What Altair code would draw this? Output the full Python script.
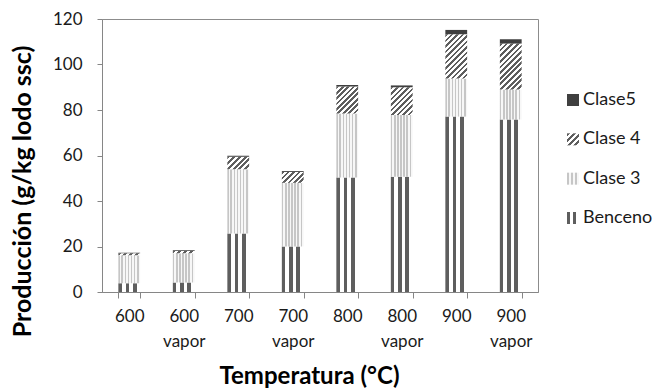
import altair as alt
import pandas as pd

# Product yields (g/kg dry sludge) per pyrolysis condition, by compound class
categories = ["600", "600|vapor", "700", "700|vapor", "800", "800|vapor", "900", "900|vapor"]
classes = ["Benceno", "Clase 3", "Clase 4", "Clase5"]
benceno = [3.8, 4.2, 25.7, 20.0, 50.3, 50.7, 77.1, 75.8]
clase3 = [12.4, 12.8, 28.3, 28.0, 28.2, 27.1, 16.7, 13.2]
clase4 = [0.8, 1.0, 5.5, 4.8, 11.8, 12.2, 19.5, 20.2]
clase5 = [0.2, 0.3, 0.4, 0.4, 0.7, 0.8, 1.9, 1.9]
y_ticks = [0, 20, 40, 60, 80, 100, 120]
legend_order = ["Clase5", "Clase 4", "Clase 3", "Benceno"]

series = {"Benceno": benceno, "Clase 3": clase3, "Clase 4": clase4, "Clase5": clase5}
rows = []
for order, name in enumerate(classes):
    for cat, val in zip(categories, series[name]):
        rows.append({"cat": cat, "clase": name, "valor": val, "orden": order})
df = pd.DataFrame(rows)
legend_df = pd.DataFrame({"clase": legend_order})

PLOT_W, PLOT_H = 436, 273
Y_MAX = 120
BAR_W = PLOT_W / len(categories) * 0.4

DARK = "#5e5e5e"
LIGHT = "#ffffff"
DOT = "#c6c6c6"
DOT_BG = "#f7f7f7"
SOLID = "#3f3f3f"
FONT = "Lato"


def banded(colors, x2=1.0, y2=0.0):
    """Linear gradient made of equal hard-edged bands (used as a fill pattern)."""
    n = len(colors)
    stops = []
    for i, c in enumerate(colors):
        stops.append({"offset": i / n, "color": c})
        stops.append({"offset": (i + 1) / n, "color": c})
    return {"gradient": "linear", "x1": 0, "y1": 0, "x2": x2, "y2": y2, "stops": stops}


def hatch(w, h, period=5.5):
    """Diagonal '/' hatching at roughly 45 degrees for a w x h pixel box."""
    h = max(h, 0.5)
    k = (w + h) / (w * w + h * h)
    n = max(1, round((w + h) / period))
    return banded([DARK, LIGHT] * n, x2=k * w, y2=k * h)


fill_benceno = banded([DARK, LIGHT] * 3)
fill_clase3 = banded([DOT, DOT_BG] * 7)
fill_clase5 = SOLID

hatch_conditions = [
    {"test": f"datum.cat === '{cat}'", "value": hatch(BAR_W, v * PLOT_H / Y_MAX)}
    for cat, v in zip(categories, clase4)
]

x_enc = alt.X(
    "cat:N",
    sort=categories,
    scale=alt.Scale(paddingInner=0.6, paddingOuter=0.3),
    axis=alt.Axis(
        title="Temperatura (°C)",
        labelExpr="isValid(datum.value) ? split(datum.value, '|') : ''",
        labelAngle=0,
        labelBaseline="top",
        labelLineHeight=25,
        labelPadding=10,
        tickBand="extent",
        tickSize=6,
        titleX=207,
        titleY=91,
        titleBaseline="alphabetic",
    ),
)
y_enc = alt.Y(
    "y1:Q",
    scale=alt.Scale(domain=[0, Y_MAX], nice=False),
    axis=alt.Axis(
        title="Producción (g/kg lodo ssc)",
        values=y_ticks,
        grid=False,
        tickSize=5,
        labelPadding=15,
        titleFontSize=25,
        titleX=-72,
        titleY=172,
        titleAlign="center",
        titleBaseline="alphabetic",
        titleAngle=270,
    ),
)

stacked = alt.Chart(df).transform_stack(
    stack="valor",
    groupby=["cat"],
    as_=["y0", "y1"],
    sort=[alt.SortField("orden", order="ascending")],
)


def segment(name, fill):
    return (
        stacked.transform_filter(alt.datum.clase == name)
        .mark_bar()
        .encode(x=x_enc, y=y_enc, y2="y0:Q", fill=fill)
    )


bars = alt.layer(
    segment("Benceno", alt.value(fill_benceno)),
    segment("Clase 3", alt.value(fill_clase3)),
    segment("Clase 4", alt.FillValue(condition=hatch_conditions, value=DARK)),
    segment("Clase5", alt.value(fill_clase5)),
)

# Legend: pattern swatches with class names, stacked top to bottom
legend_y = alt.Y(
    "clase:N",
    sort=legend_order,
    scale=alt.Scale(type="point", domain=legend_order, range=[81, 199], padding=0),
    axis=None,
)
legend_fill = alt.FillValue(
    condition=[
        {"test": "datum.clase === 'Clase5'", "value": fill_clase5},
        {"test": "datum.clase === 'Clase 4'", "value": hatch(12, 12, period=6)},
        {"test": "datum.clase === 'Clase 3'", "value": banded([DOT, DOT_BG] * 3)},
    ],
    value=banded([DARK, LIGHT, DARK, LIGHT], x2=1.0),
)
swatches = alt.Chart(legend_df).mark_square(size=144, opacity=1).encode(
    x=alt.value(471), y=legend_y, fill=legend_fill
)
labels = alt.Chart(legend_df).mark_text(
    align="left", baseline="middle", font=FONT, fontSize=18, color="#1a1a1a"
).encode(x=alt.value(481), y=legend_y, text="clase:N")
legend = alt.layer(swatches, labels)

chart = (
    alt.layer(bars, legend)
    .resolve_scale(y="independent")
    .properties(
        width=PLOT_W,
        height=PLOT_H,
        autosize=alt.AutoSizeParams(type="none"),
        padding={"left": 102, "top": 19, "right": 120, "bottom": 97},
    )
    .configure_view(stroke="#8c8c8c", strokeWidth=1)
    .configure_axis(
        domainColor="#868686",
        tickColor="#868686",
        labelColor="#1a1a1a",
        labelFont=FONT,
        labelFontSize=17,
        titleFont=FONT,
        titleFontSize=24,
        titleFontWeight="bold",
        titleColor="#000000",
    )
)

chart.save("out.html", embed_options={"renderer": "svg", "actions": False})
